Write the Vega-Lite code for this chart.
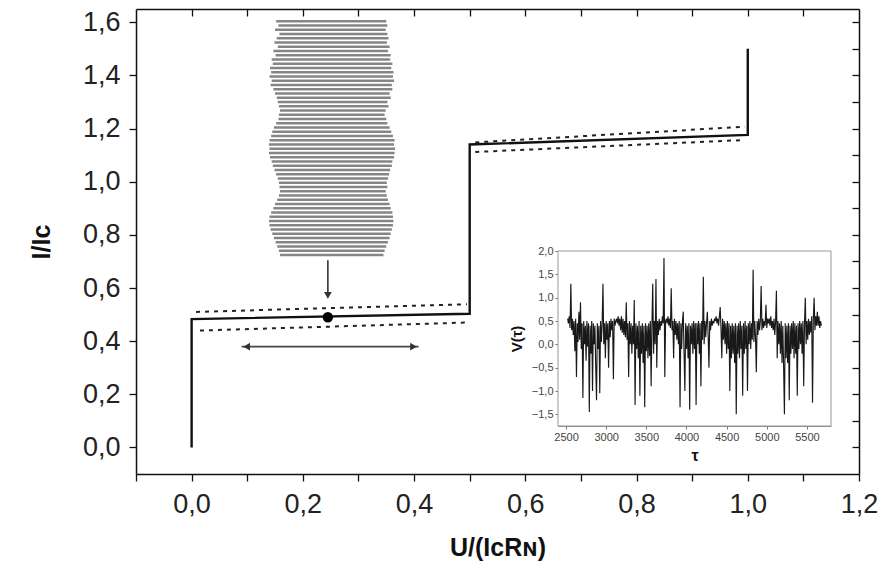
{
  "$schema": "https://vega.github.io/schema/vega-lite/v6.json",
  "width": 723,
  "height": 465,
  "autosize": {"type": "none"},
  "padding": {"left": 136, "top": 9, "right": 21, "bottom": 97},
  "background": "white",
  "config": {
    "view": {"stroke": null},
    "font": "Liberation Sans",
    "axis": {"grid": false, "domainColor": "#111", "domainWidth": 1.5, "tickColor": "#111", "tickWidth": 1.3, "labelColor": "#222", "titleColor": "#111", "labelFont": "Liberation Sans", "titleFont": "Liberation Sans"}
  },
  "datasets": {
    "curve": [
      {"i": 1, "x": 0, "y": 0},
      {"i": 2, "x": 0, "y": 0.483},
      {"i": 3, "x": 0.5, "y": 0.503},
      {"i": 4, "x": 0.5, "y": 1.14},
      {"i": 5, "x": 1.0, "y": 1.176},
      {"i": 6, "x": 1.0, "y": 1.5}
    ],
    "bounds": [
      {"s": "a", "x": 0.008, "y": 0.51}, {"s": "a", "x": 0.495, "y": 0.539},
      {"s": "b", "x": 0.015, "y": 0.44}, {"s": "b", "x": 0.495, "y": 0.47},
      {"s": "c", "x": 0.51, "y": 1.148}, {"s": "c", "x": 0.995, "y": 1.207},
      {"s": "d", "x": 0.51, "y": 1.112}, {"s": "d", "x": 0.995, "y": 1.157}
    ],
    "dot": [{"x": 0.245, "y": 0.49}],
    "harrow": [{"x1": 0.09, "x2": 0.408, "y": 0.379}],
    "varrow": [{"x": 0.245, "y1": 0.704, "y2": 0.565}],
    "heads": [
      {"x": 0.099, "y": 0.379, "shape": "triangle-left"},
      {"x": 0.399, "y": 0.379, "shape": "triangle-right"},
      {"x": 0.245, "y": 0.572, "shape": "triangle-down"}
    ],
    "stripes": [
      {"y": 1.604, "l": 0.152, "r": 0.350}, {"y": 1.588, "l": 0.156, "r": 0.352}, {"y": 1.572, "l": 0.150, "r": 0.349},
      {"y": 1.556, "l": 0.158, "r": 0.352}, {"y": 1.540, "l": 0.153, "r": 0.354}, {"y": 1.524, "l": 0.149, "r": 0.351},
      {"y": 1.508, "l": 0.155, "r": 0.356}, {"y": 1.492, "l": 0.147, "r": 0.353}, {"y": 1.476, "l": 0.151, "r": 0.358},
      {"y": 1.460, "l": 0.144, "r": 0.357}, {"y": 1.444, "l": 0.146, "r": 0.361}, {"y": 1.428, "l": 0.141, "r": 0.359},
      {"y": 1.412, "l": 0.143, "r": 0.363}, {"y": 1.396, "l": 0.140, "r": 0.362}, {"y": 1.380, "l": 0.144, "r": 0.364},
      {"y": 1.364, "l": 0.142, "r": 0.360}, {"y": 1.348, "l": 0.147, "r": 0.361}, {"y": 1.332, "l": 0.150, "r": 0.356},
      {"y": 1.316, "l": 0.153, "r": 0.358}, {"y": 1.300, "l": 0.155, "r": 0.352}, {"y": 1.284, "l": 0.157, "r": 0.354},
      {"y": 1.268, "l": 0.159, "r": 0.349}, {"y": 1.252, "l": 0.157, "r": 0.347}, {"y": 1.236, "l": 0.156, "r": 0.350},
      {"y": 1.220, "l": 0.152, "r": 0.352}, {"y": 1.204, "l": 0.148, "r": 0.356}, {"y": 1.188, "l": 0.145, "r": 0.359},
      {"y": 1.172, "l": 0.143, "r": 0.362}, {"y": 1.156, "l": 0.140, "r": 0.365}, {"y": 1.140, "l": 0.139, "r": 0.364},
      {"y": 1.124, "l": 0.140, "r": 0.366}, {"y": 1.108, "l": 0.139, "r": 0.365}, {"y": 1.092, "l": 0.141, "r": 0.364},
      {"y": 1.076, "l": 0.144, "r": 0.361}, {"y": 1.060, "l": 0.146, "r": 0.360}, {"y": 1.044, "l": 0.149, "r": 0.357},
      {"y": 1.028, "l": 0.152, "r": 0.355}, {"y": 1.012, "l": 0.155, "r": 0.353}, {"y": 0.996, "l": 0.157, "r": 0.351},
      {"y": 0.980, "l": 0.158, "r": 0.352}, {"y": 0.964, "l": 0.159, "r": 0.349}, {"y": 0.948, "l": 0.157, "r": 0.351},
      {"y": 0.932, "l": 0.154, "r": 0.353}, {"y": 0.916, "l": 0.150, "r": 0.356}, {"y": 0.900, "l": 0.147, "r": 0.358},
      {"y": 0.884, "l": 0.143, "r": 0.361}, {"y": 0.868, "l": 0.140, "r": 0.362}, {"y": 0.852, "l": 0.139, "r": 0.363},
      {"y": 0.836, "l": 0.140, "r": 0.362}, {"y": 0.820, "l": 0.142, "r": 0.360}, {"y": 0.804, "l": 0.145, "r": 0.358},
      {"y": 0.788, "l": 0.148, "r": 0.356}, {"y": 0.772, "l": 0.151, "r": 0.353}, {"y": 0.756, "l": 0.154, "r": 0.350},
      {"y": 0.740, "l": 0.157, "r": 0.347}, {"y": 0.724, "l": 0.159, "r": 0.345}
    ],
    "frame": [{"x1": 2400, "x2": 5800, "y1": -1.75, "y2": 2.0}],
    "ts": [
      {"t":2520,"v":0.55},{"t":2530,"v":0.45},{"t":2540,"v":0.6},{"t":2550,"v":0.35},{"t":2560,"v":1.3},{"t":2570,"v":0.3},{"t":2580,"v":0.55},{"t":2590,"v":0.2},{"t":2600,"v":0.5},{"t":2610,"v":-0.15},
      {"t":2620,"v":0.55},{"t":2630,"v":-0.7},{"t":2640,"v":0.45},{"t":2650,"v":0.05},{"t":2660,"v":0.7},{"t":2670,"v":0.1},{"t":2680,"v":0.9},{"t":2690,"v":-0.1},{"t":2700,"v":0.45},{"t":2710,"v":-1.15},
      {"t":2720,"v":0.5},{"t":2730,"v":0.0},{"t":2740,"v":0.4},{"t":2750,"v":-0.35},{"t":2760,"v":0.5},{"t":2770,"v":-0.05},{"t":2780,"v":0.45},{"t":2790,"v":-1.45},{"t":2800,"v":0.4},{"t":2810,"v":-0.2},
      {"t":2820,"v":0.5},{"t":2830,"v":-1.0},{"t":2840,"v":0.45},{"t":2850,"v":0.0},{"t":2860,"v":0.4},{"t":2870,"v":-0.5},{"t":2880,"v":-1.2},{"t":2890,"v":0.45},{"t":2900,"v":-0.1},{"t":2910,"v":0.4},
      {"t":2920,"v":-1.05},{"t":2930,"v":0.5},{"t":2940,"v":0.05},{"t":2950,"v":0.45},{"t":2960,"v":1.3},{"t":2970,"v":0.0},{"t":2980,"v":0.45},{"t":2990,"v":-0.3},{"t":3000,"v":0.5},{"t":3010,"v":0.1},
      {"t":3020,"v":0.45},{"t":3030,"v":-0.5},{"t":3040,"v":0.5},{"t":3050,"v":0.15},{"t":3060,"v":0.55},{"t":3070,"v":0.3},{"t":3080,"v":0.5},{"t":3090,"v":-0.75},{"t":3100,"v":0.55},{"t":3110,"v":0.4},
      {"t":3120,"v":0.5},{"t":3130,"v":0.55},{"t":3140,"v":0.45},{"t":3150,"v":0.6},{"t":3160,"v":0.4},{"t":3170,"v":0.55},{"t":3180,"v":0.3},{"t":3190,"v":0.6},{"t":3200,"v":0.25},{"t":3210,"v":0.55},
      {"t":3220,"v":0.2},{"t":3230,"v":0.5},{"t":3240,"v":0.15},{"t":3250,"v":0.9},{"t":3260,"v":0.1},{"t":3270,"v":0.45},{"t":3280,"v":-0.7},{"t":3290,"v":0.5},{"t":3300,"v":0.0},{"t":3310,"v":0.45},
      {"t":3320,"v":-0.2},{"t":3330,"v":0.4},{"t":3340,"v":0.0},{"t":3350,"v":0.95},{"t":3360,"v":-1.3},{"t":3370,"v":0.45},{"t":3380,"v":-0.1},{"t":3390,"v":0.4},{"t":3400,"v":-0.3},{"t":3410,"v":0.5},
      {"t":3420,"v":-1.1},{"t":3430,"v":0.4},{"t":3440,"v":-0.2},{"t":3450,"v":0.45},{"t":3460,"v":-0.4},{"t":3470,"v":0.4},{"t":3480,"v":-1.35},{"t":3490,"v":0.45},{"t":3500,"v":-0.15},{"t":3510,"v":0.4},
      {"t":3520,"v":-0.3},{"t":3530,"v":0.45},{"t":3540,"v":-0.25},{"t":3550,"v":0.5},{"t":3560,"v":-0.9},{"t":3570,"v":0.45},{"t":3580,"v":1.3},{"t":3590,"v":-0.2},{"t":3600,"v":0.5},{"t":3610,"v":0.0},
      {"t":3620,"v":1.4},{"t":3630,"v":-0.5},{"t":3640,"v":0.5},{"t":3650,"v":0.2},{"t":3660,"v":0.55},{"t":3670,"v":0.3},{"t":3680,"v":0.5},{"t":3690,"v":0.4},{"t":3700,"v":0.6},{"t":3710,"v":0.45},
      {"t":3720,"v":1.85},{"t":3730,"v":-0.7},{"t":3740,"v":0.5},{"t":3750,"v":0.55},{"t":3760,"v":0.45},{"t":3770,"v":0.6},{"t":3780,"v":0.4},{"t":3790,"v":0.55},{"t":3800,"v":0.35},{"t":3810,"v":1.2},
      {"t":3820,"v":0.3},{"t":3830,"v":0.5},{"t":3840,"v":-0.3},{"t":3850,"v":0.55},{"t":3860,"v":0.2},{"t":3870,"v":0.5},{"t":3880,"v":0.1},{"t":3890,"v":0.45},{"t":3900,"v":0.0},{"t":3910,"v":0.5},
      {"t":3920,"v":-1.35},{"t":3930,"v":0.45},{"t":3940,"v":-0.1},{"t":3950,"v":0.5},{"t":3960,"v":0.7},{"t":3970,"v":-0.2},{"t":3980,"v":-1.0},{"t":3990,"v":0.45},{"t":4000,"v":-0.1},{"t":4010,"v":0.4},
      {"t":4020,"v":-0.3},{"t":4030,"v":0.45},{"t":4040,"v":-1.4},{"t":4050,"v":0.4},{"t":4060,"v":0.0},{"t":4070,"v":0.45},{"t":4080,"v":-0.2},{"t":4090,"v":0.5},{"t":4100,"v":-0.1},{"t":4110,"v":0.45},
      {"t":4120,"v":-1.3},{"t":4130,"v":0.45},{"t":4140,"v":0.0},{"t":4150,"v":0.5},{"t":4160,"v":-0.2},{"t":4170,"v":0.45},{"t":4180,"v":-0.9},{"t":4190,"v":0.5},{"t":4200,"v":0.1},{"t":4210,"v":1.45},
      {"t":4220,"v":0.0},{"t":4230,"v":0.5},{"t":4240,"v":0.15},{"t":4250,"v":0.45},{"t":4260,"v":0.7},{"t":4270,"v":0.2},{"t":4280,"v":-0.5},{"t":4290,"v":0.5},{"t":4300,"v":0.3},{"t":4310,"v":0.55},
      {"t":4320,"v":0.4},{"t":4330,"v":0.5},{"t":4340,"v":0.45},{"t":4350,"v":0.55},{"t":4360,"v":0.5},{"t":4370,"v":0.6},{"t":4380,"v":0.45},{"t":4390,"v":0.55},{"t":4400,"v":0.4},{"t":4410,"v":0.6},
      {"t":4420,"v":0.8},{"t":4430,"v":0.35},{"t":4440,"v":-0.3},{"t":4450,"v":0.55},{"t":4460,"v":0.1},{"t":4470,"v":0.5},{"t":4480,"v":0.0},{"t":4490,"v":0.45},{"t":4500,"v":-0.2},{"t":4510,"v":0.5},
      {"t":4520,"v":-0.1},{"t":4530,"v":0.45},{"t":4540,"v":-1.0},{"t":4550,"v":0.4},{"t":4560,"v":-0.3},{"t":4570,"v":0.45},{"t":4580,"v":-0.2},{"t":4590,"v":0.4},{"t":4600,"v":-0.4},{"t":4610,"v":0.45},
      {"t":4620,"v":-1.5},{"t":4630,"v":0.4},{"t":4640,"v":-0.2},{"t":4650,"v":0.45},{"t":4660,"v":-0.3},{"t":4670,"v":0.5},{"t":4680,"v":-0.1},{"t":4690,"v":0.4},{"t":4700,"v":-1.1},{"t":4710,"v":0.45},
      {"t":4720,"v":-0.2},{"t":4730,"v":0.5},{"t":4740,"v":-0.1},{"t":4750,"v":0.4},{"t":4760,"v":-1.0},{"t":4770,"v":0.45},{"t":4780,"v":0.0},{"t":4790,"v":0.5},{"t":4800,"v":-0.1},{"t":4810,"v":0.45},
      {"t":4820,"v":0.1},{"t":4830,"v":1.6},{"t":4840,"v":0.05},{"t":4850,"v":0.5},{"t":4860,"v":0.15},{"t":4870,"v":-0.6},{"t":4880,"v":0.5},{"t":4890,"v":0.2},{"t":4900,"v":0.55},{"t":4910,"v":0.3},
      {"t":4920,"v":0.5},{"t":4930,"v":1.25},{"t":4940,"v":0.3},{"t":4950,"v":0.55},{"t":4960,"v":0.35},{"t":4970,"v":0.5},{"t":4980,"v":0.4},{"t":4990,"v":0.85},{"t":5000,"v":0.35},{"t":5010,"v":0.55},
      {"t":5020,"v":0.45},{"t":5030,"v":0.55},{"t":5040,"v":0.4},{"t":5050,"v":0.6},{"t":5060,"v":0.35},{"t":5070,"v":0.5},{"t":5080,"v":0.3},{"t":5090,"v":0.55},{"t":5100,"v":0.2},{"t":5110,"v":0.5},
      {"t":5120,"v":1.15},{"t":5130,"v":-0.3},{"t":5140,"v":0.5},{"t":5150,"v":0.0},{"t":5160,"v":0.45},{"t":5170,"v":-0.2},{"t":5180,"v":0.5},{"t":5190,"v":-0.4},{"t":5200,"v":0.4},{"t":5210,"v":-0.5},
      {"t":5220,"v":-1.5},{"t":5230,"v":0.45},{"t":5240,"v":-0.3},{"t":5250,"v":0.4},{"t":5260,"v":-0.4},{"t":5270,"v":0.45},{"t":5280,"v":-1.2},{"t":5290,"v":0.4},{"t":5300,"v":-0.2},{"t":5310,"v":0.45},
      {"t":5320,"v":-0.1},{"t":5330,"v":0.5},{"t":5340,"v":-0.3},{"t":5350,"v":0.45},{"t":5360,"v":-0.2},{"t":5370,"v":0.4},{"t":5380,"v":-1.1},{"t":5390,"v":0.45},{"t":5400,"v":-0.1},{"t":5410,"v":0.5},
      {"t":5420,"v":0.0},{"t":5430,"v":0.45},{"t":5440,"v":-0.2},{"t":5450,"v":0.5},{"t":5460,"v":-0.9},{"t":5470,"v":0.45},{"t":5480,"v":1.0},{"t":5490,"v":0.0},{"t":5500,"v":0.5},{"t":5510,"v":0.1},
      {"t":5520,"v":0.55},{"t":5530,"v":0.2},{"t":5540,"v":0.5},{"t":5550,"v":0.25},{"t":5560,"v":0.6},{"t":5570,"v":-1.25},{"t":5580,"v":0.55},{"t":5590,"v":1.0},{"t":5600,"v":0.3},{"t":5610,"v":0.6},
      {"t":5620,"v":0.4},{"t":5630,"v":0.7},{"t":5640,"v":0.4},{"t":5650,"v":0.6},{"t":5660,"v":0.35},{"t":5670,"v":0.5},{"t":5680,"v":0.4}
    ]
  },
  "layer": [
    {
      "layer": [
        {
          "data": {"name": "stripes"},
          "mark": {"type": "rule", "color": "#858585", "strokeWidth": 2.6},
          "encoding": {
            "x": {"field": "l", "type": "quantitative",
              "scale": {"domain": [-0.1, 1.2], "nice": false, "zero": false},
              "axis": {"orient": "bottom", "title": "U/(IᴄRɴ)", "values": [-0.1, 0, 0.1, 0.2, 0.3, 0.4, 0.5, 0.6, 0.7, 0.8, 0.9, 1.0, 1.1, 1.2],
                "labelExpr": "abs(round(datum.value*10))%2==0 ? replace(format(datum.value,'.1f'),'.',',') : ''",
                "tickSize": 7, "labelFontSize": 27, "labelPadding": 10, "titleFontSize": 25, "titleFontWeight": "bold", "titlePadding": 18, "labelFlush": false, "labelOverlap": false}},
            "x2": {"field": "r"},
            "y": {"field": "y", "type": "quantitative",
              "scale": {"domain": [-0.1, 1.65], "nice": false, "zero": false},
              "axis": {"orient": "left", "title": "I/Iᴄ", "values": [0, 0.1, 0.2, 0.3, 0.4, 0.5, 0.6, 0.7, 0.8, 0.9, 1.0, 1.1, 1.2, 1.3, 1.4, 1.5, 1.6],
                "labelExpr": "abs(round(datum.value*10))%2==0 ? replace(format(datum.value,'.1f'),'.',',') : ''",
                "tickSize": 7, "labelFontSize": 27, "labelPadding": 9, "titleFontSize": 25, "titleFontWeight": "bold", "titlePadding": 28, "labelFlush": false, "labelOverlap": false}}
          }
        },
        {
          "data": {"name": "varrow"},
          "mark": {"type": "rule", "color": "#333", "strokeWidth": 1.6},
          "encoding": {
            "x": {"field": "x", "type": "quantitative"},
            "y": {"field": "y1", "type": "quantitative"},
            "y2": {"field": "y2"}
          }
        },
        {
          "data": {"name": "harrow"},
          "mark": {"type": "rule", "color": "#444", "strokeWidth": 1.8},
          "encoding": {
            "x": {"field": "x1", "type": "quantitative"},
            "x2": {"field": "x2"},
            "y": {"field": "y", "type": "quantitative"}
          }
        },
        {
          "data": {"name": "heads"},
          "mark": {"type": "point", "filled": true, "color": "#333", "size": 60, "opacity": 1},
          "encoding": {
            "x": {"field": "x", "type": "quantitative"},
            "y": {"field": "y", "type": "quantitative"},
            "shape": {"field": "shape", "type": "nominal", "scale": null, "legend": null}
          }
        },
        {
          "data": {"name": "bounds"},
          "mark": {"type": "line", "color": "#222", "strokeWidth": 2, "strokeDash": [4, 5]},
          "encoding": {
            "x": {"field": "x", "type": "quantitative"},
            "y": {"field": "y", "type": "quantitative"},
            "detail": {"field": "s", "type": "nominal"}
          }
        },
        {
          "data": {"name": "curve"},
          "mark": {"type": "line", "color": "#111", "strokeWidth": 2.4},
          "encoding": {
            "x": {"field": "x", "type": "quantitative"},
            "y": {"field": "y", "type": "quantitative"},
            "order": {"field": "i", "type": "quantitative"}
          }
        },
        {
          "data": {"name": "dot"},
          "mark": {"type": "point", "filled": true, "color": "#000", "size": 110, "opacity": 1},
          "encoding": {
            "x": {"field": "x", "type": "quantitative"},
            "y": {"field": "y", "type": "quantitative"}
          }
        }
      ]
    },
    {
      "data": {"values": [{"x": 0, "y": 0}]},
      "mark": {"type": "point", "opacity": 0},
      "encoding": {
        "x": {"field": "x", "type": "quantitative",
          "scale": {"domain": [-0.1, 1.2], "nice": false, "zero": false},
          "axis": {"orient": "top", "labels": false, "title": null, "tickSize": -7, "values": [0, 0.1, 0.2, 0.3, 0.4, 0.5, 0.6, 0.7, 0.8, 0.9, 1.0, 1.1]}},
        "y": {"field": "y", "type": "quantitative",
          "scale": {"domain": [-0.1, 1.65], "nice": false, "zero": false},
          "axis": {"orient": "right", "labels": false, "title": null, "tickSize": -7, "values": [0, 0.1, 0.2, 0.3, 0.4, 0.5, 0.6, 0.7, 0.8, 0.9, 1.0, 1.1, 1.2, 1.3, 1.4, 1.5, 1.6]}}
      }
    },
    {
      "layer": [
        {
          "data": {"name": "frame"},
          "mark": {"type": "rect", "fill": "white", "stroke": "#999", "strokeWidth": 1},
          "encoding": {
            "x": {"field": "x1", "type": "quantitative"},
            "x2": {"field": "x2"},
            "y": {"field": "y1", "type": "quantitative"},
            "y2": {"field": "y2"}
          }
        },
        {
          "data": {"name": "ts"},
          "mark": {"type": "line", "color": "#000", "strokeWidth": 1.15, "opacity": 0.9},
          "encoding": {
            "x": {"field": "t", "type": "quantitative",
              "scale": {"domain": [2400, 5800], "range": [422, 695], "nice": false, "zero": false},
              "axis": {"orient": "bottom", "offset": -48, "title": "τ", "values": [2500, 3000, 3500, 4000, 4500, 5000, 5500], "format": "d",
                "tickSize": 3, "labelFontSize": 11, "labelPadding": 2, "titleFontSize": 16, "titleFontWeight": "bold", "titlePadding": 5,
                "domainColor": "#888", "domainWidth": 1, "tickColor": "#777", "tickWidth": 1, "labelColor": "#444", "labelFlush": false}},
            "y": {"field": "v", "type": "quantitative",
              "scale": {"domain": [-1.75, 2.0], "range": [417, 242], "nice": false, "zero": false},
              "axis": {"orient": "left", "offset": -422, "title": "V(τ)", "values": [-1.5, -1.0, -0.5, 0, 0.5, 1.0, 1.5, 2.0],
                "labelExpr": "replace(format(datum.value,'.1f'),'.',',')",
                "tickSize": 3, "labelFontSize": 11, "labelPadding": 2, "titleFontSize": 15, "titleFontWeight": "bold", "titlePadding": 7,
                "domainColor": "#888", "domainWidth": 1, "tickColor": "#777", "tickWidth": 1, "labelColor": "#444", "labelFlush": false}}
          }
        }
      ]
    }
  ],
  "resolve": {"scale": {"x": "independent", "y": "independent"}, "axis": {"x": "independent", "y": "independent"}}
}
